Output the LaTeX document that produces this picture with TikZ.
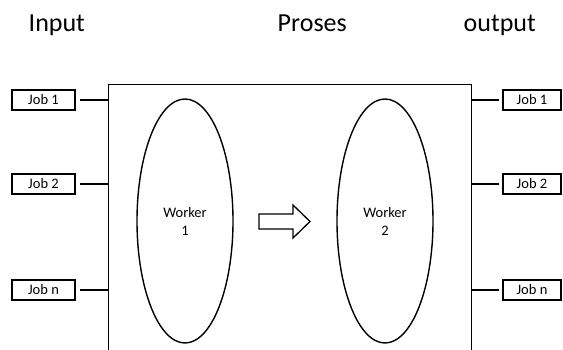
\documentclass[tikz,border=0pt]{standalone}
\usepackage{fontspec}
\setmainfont{Carlito}
\usetikzlibrary{shapes.geometric}
\begin{document}
\begin{tikzpicture}[x=1pt,y=-1pt,
  line width=1.4pt,
  title/.style={anchor=base west,inner sep=0pt,font=\fontsize{26}{30}\selectfont},
  jobbox/.style={draw,rectangle,minimum height=20pt,inner sep=0pt,font=\fontsize{14.5}{17}\selectfont},
  worker/.style={draw,ellipse,minimum width=96pt,minimum height=244pt,inner sep=0pt,align=center,font=\fontsize{14.5}{18}\selectfont},
  link/.style={draw,line width=1.2pt},
  blockarrow/.style={draw,line width=1.3pt,line join=miter}]
  \useasboundingbox (0,0) rectangle (563,350);
  % headings
  \node[title] (hin)  at (28,32)  {Input};
  \node[title] (hpro) at (277,32) {Proses};
  \node[title] (hout) at (463,32) {output};
  % processing block, open at the bottom
  \node[minimum width=362pt,minimum height=280pt,inner sep=0pt] (proc) at (290,225) {};
  \draw (proc.south west) -- (proc.north west) -- (proc.north east) -- (proc.south east);
  % workers
  \node[worker] (w1) at (185,221) {Worker\\1};
  \node[worker] (w2) at (385,221) {Worker\\2};
  % hollow block arrow between the workers
  \coordinate (flow) at (259,221.5);
  \draw[blockarrow] (flow) ++(0,-7.5) -- ++(34,0) -- ++(0,-9) -- ++(17,16.5)
    -- ++(-17,16.5) -- ++(0,-9) -- ++(-34,0) -- cycle;
  % input jobs
  \node[jobbox,minimum width=63pt] (in1) at (43.5,100) {Job 1};
  \node[jobbox,minimum width=63pt] (in2) at (43.5,184) {Job 2};
  \node[jobbox,minimum width=63pt] (inn) at (43.5,290) {Job n};
  % output jobs
  \node[jobbox,minimum width=58pt] (out1) at (532,100) {Job 1};
  \node[jobbox,minimum width=58pt] (out2) at (532,184) {Job 2};
  \node[jobbox,minimum width=58pt] (outn) at (532,290) {Job n};
  % connectors
  \foreach \j in {in1,in2,inn}
    \draw[link,shorten <=4pt] (\j.east) -- (\j.east -| proc.west);
  \foreach \j in {out1,out2,outn}
    \draw[link,shorten <=3pt] (\j.west) -- (\j.west -| proc.east);
\end{tikzpicture}
\end{document}
